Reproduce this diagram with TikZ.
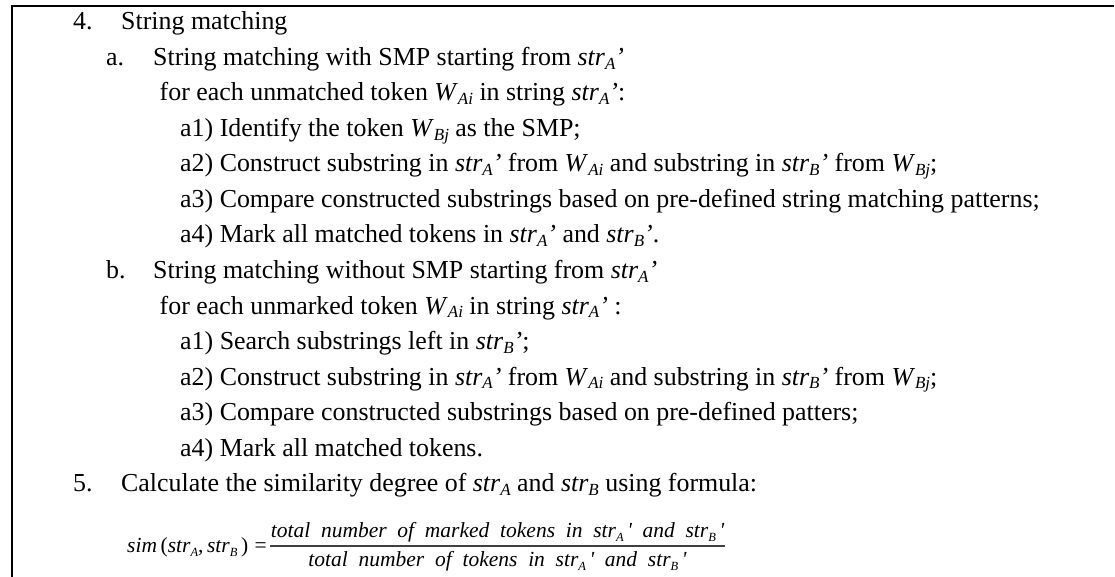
\documentclass[tikz,border=0pt]{standalone}
\usepackage{fontspec}
\setmainfont{Liberation Serif}
\newcommand{\sbs}[1]{\raisebox{-3.8pt}{\fontsize{17}{17}\selectfont\itshape #1}}
\newcommand{\fsb}[1]{\raisebox{-4.5pt}{\fontsize{12.5}{12.5}\selectfont\itshape #1}}
\newcommand{\strA}{\textit{str}\sbs{A}\textit{’}}
\newcommand{\strB}{\textit{str}\sbs{B}\textit{’}}
\newcommand{\strAn}{\textit{str}\sbs{A}}
\newcommand{\strBn}{\textit{str}\sbs{B}}
\newcommand{\wAi}{\textit{W}\sbs{Ai}}
\newcommand{\wBj}{\textit{W}\sbs{Bj}}
\newcommand{\fgap}{\hspace{0.5em}}
\newcommand{\fstrA}{str\fsb{A}\,\textquotesingle}
\newcommand{\fstrB}{str\fsb{B}\,\textquotesingle}
\begin{document}
\begin{tikzpicture}[x=1pt,y=-1pt,
  txt/.style={anchor=base west, inner sep=0pt, font=\fontsize{25.9}{30}\selectfont},
  ftxt/.style={inner sep=0pt, font=\fontsize{21.5}{24}\selectfont\itshape},
  frame/.style={line width=2pt, black}]
\useasboundingbox (0,0) rectangle (1115,577);
\coordinate (fbot) at (11.7,577);
\coordinate (ftr) at (1114,5.8);
\draw[frame] (fbot) |- (ftr);
% line 1
\node[txt] (n4) at (73,30) {4.};
\node[txt] (t4) at (121,30) {String matching};
% line 2
\node[txt] (na) at (106,65.5) {a.};
\node[txt] (ta) at (153,65.5) {String matching with SMP starting from \strA};
\node[txt] (ta0) at (159.5,101) {for each unmatched token \wAi{} in string \strA:};
\node[txt] (ta1) at (180,136.5) {a1) Identify the token \wBj{} as the SMP;};
\node[txt] (ta2) at (180,172) {a2) Construct substring in \strA{} from \wAi{} and substring in \strB{} from \wBj;};
\node[txt] (ta3) at (180,207.5) {a3) Compare constructed substrings based on pre-defined string matching patterns;};
\node[txt] (ta4) at (180,243) {a4) Mark all matched tokens in \strA{} and \strB.};
% b
\node[txt] (nb) at (106,278.5) {b.};
\node[txt] (tb) at (153,278.5) {String matching without SMP starting from \strA};
\node[txt] (tb0) at (159.5,314) {for each unmarked token \wAi{} in string \strA{} :};
\node[txt] (tb1) at (180,349.5) {a1) Search substrings left in \strB;};
\node[txt] (tb2) at (180,385) {a2) Construct substring in \strA{} from \wAi{} and substring in \strB{} from \wBj;};
\node[txt] (tb3) at (180,420.5) {a3) Compare constructed substrings based on pre-defined patters;};
\node[txt] (tb4) at (180,456) {a4) Mark all matched tokens.};
% 5
\node[txt] (n5) at (73,491.5) {5.};
\node[txt] (t5) at (121,491.5) {Calculate the similarity degree of \strAn{} and \strBn{} using formula:};
% formula
\node[ftxt, anchor=base west] (fl) at (127,552) {sim\,\textup{(}str\fsb{A}\textup{,}\,str\fsb{B}\,\textup{)}\hspace{0.3em}\textup{=}};
\node[ftxt, anchor=base] (fnum) at (497.5,537) {total\fgap number\fgap of\fgap marked\fgap tokens\fgap in\fgap \fstrA\fgap and\fgap \fstrB};
\node[ftxt, anchor=base] (fden) at (497.5,566) {total\fgap number\fgap of\fgap tokens\fgap in\fgap \fstrA\fgap and\fgap \fstrB};
\coordinate (barl) at (270,546);
\coordinate (barr) at (725,546);
\draw[line width=1.3pt, black!75] (barl) -- (barr);
\end{tikzpicture}
\end{document}
